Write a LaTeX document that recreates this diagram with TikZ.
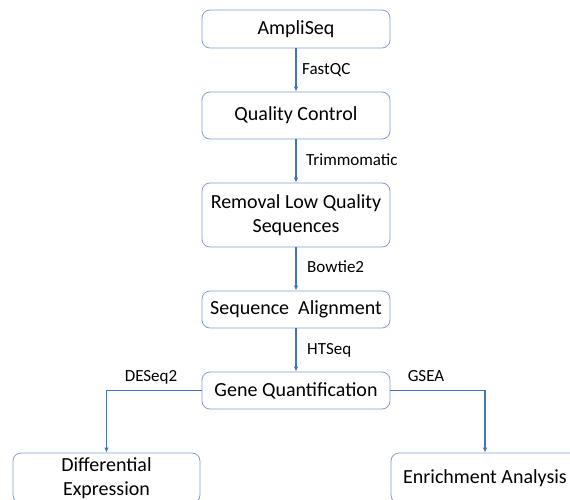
\documentclass[tikz,border=0pt]{standalone}
\usepackage{fontspec}
\setmainfont{Carlito}
\usetikzlibrary{arrows.meta}
\definecolor{boxline}{HTML}{7F9FD3}
\definecolor{arrowcol}{HTML}{4472C4}
\tikzset{
  box/.style={draw=boxline, line width=0.8pt, rounded corners=8pt, fill=white,
    inner sep=0pt, align=center, font=\fontsize{20}{24}\selectfont},
  lbl/.style={inner sep=0pt, font=\fontsize{17}{20}\selectfont},
  conn/.style={draw=arrowcol, line width=1.3pt, -{Latex[length=5pt,width=4.5pt]}}
}
\begin{document}
\begin{tikzpicture}[x=1pt,y=-1pt]
\path[use as bounding box] (0,0) rectangle (570,500);
\clip (0,0) rectangle (570,500);
\node[box, minimum width=188pt, minimum height=38pt] (ampli) at (296,29) {AmpliSeq};
\node[box, minimum width=188pt, minimum height=47pt] (qc) at (296,115.5) {Quality Control};
\node[box, minimum width=188pt, minimum height=64pt] (rem) at (296,215) {Removal Low Quality\\Sequences};
\node[box, minimum width=188pt, minimum height=37pt] (align) at (296,309.5) {Sequence\ \ Alignment};
\node[box, minimum width=188pt, minimum height=37pt] (gene) at (296,390.5) {Gene Quantification};
\node[box, minimum width=187pt, minimum height=50pt] (diff) at (106.5,478) {Differential\\Expression};
\node[box, minimum width=188pt, minimum height=50pt] (enr) at (485,478) {Enrichment Analysis};

\draw[conn] (ampli) -- (qc);
\draw[conn] (qc) -- (rem);
\draw[conn] (rem) -- (align);
\draw[conn] (align) -- (gene);
\draw[conn] (gene.west) -| (diff.north);
\draw[conn] (gene.east) -| (enr.north);

\node[lbl, anchor=west] (l1) at (302,70) {FastQC};
\node[lbl, anchor=west] (l2) at (306,160) {Trimmomatic};
\node[lbl, anchor=west] (l3) at (307,267) {Bowtie2};
\node[lbl, anchor=west] (l4) at (307,350) {HTSeq};
\node[lbl] (l5) at (151,377) {DESeq2};
\node[lbl] (l6) at (426,376) {GSEA};
\end{tikzpicture}
\end{document}
